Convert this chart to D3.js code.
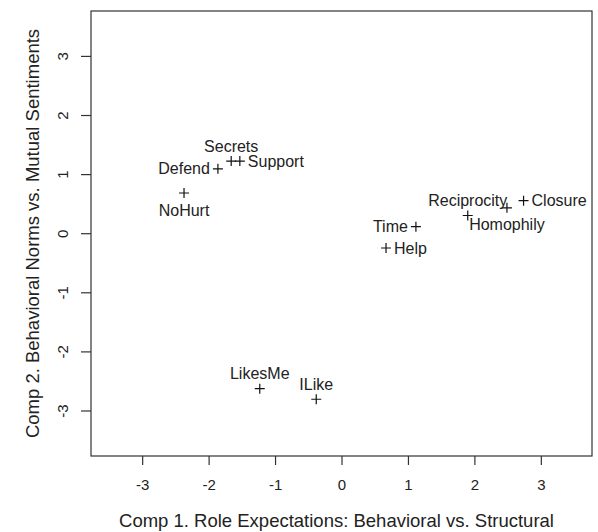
<!DOCTYPE html>
<html>
<head>
<meta charset="utf-8">
<script src="https://cdn.jsdelivr.net/npm/d3@7"></script>
<style>
  body { margin: 0; background: #fff; }
  svg text { font-family: "Liberation Sans", Arial, sans-serif; fill: #222; }
</style>
</head>
<body>
<div id="chart"></div>
<script>
// component scores
const items = ["Defend", "Secrets", "Support", "NoHurt", "Time", "Help",
               "Reciprocity", "Homophily", "Closure", "LikesMe", "ILike"];
const comp1 = [-1.86, -1.66, -1.53, -2.37, 1.12, 0.67, 1.90, 2.49, 2.74, -1.23, -0.38];
const comp2 = [1.09, 1.22, 1.22, 0.68, 0.11, -0.25, 0.30, 0.43, 0.55, -2.63, -2.81];
const xTicks = [-3, -2, -1, 0, 1, 2, 3];
const yTicks = [-3, -2, -1, 0, 1, 2, 3];

(function () {
  "use strict";

  const W = 598, H = 532;
  const box = { left: 91, right: 592, top: 11, bottom: 456 };

  // which side of the marker each label sits on
  const side = {
    Defend: "left", Secrets: "above", Support: "right", NoHurt: "below",
    Time: "left", Help: "right", Reciprocity: "above", Homophily: "below",
    Closure: "right", LikesMe: "above", ILike: "above"
  };

  const svg = d3.select("#chart").append("svg")
    .attr("width", W).attr("height", H);

  const x = d3.scaleLinear().domain([-3.77, 3.77]).range([box.left, box.right]);
  const y = d3.scaleLinear().domain([-3.77, 3.76]).range([box.bottom, box.top]);

  // plain hyphen for negatives, like R
  const fmt = d => String(d);

  // frame
  svg.append("rect")
    .attr("x", box.left).attr("y", box.top)
    .attr("width", box.right - box.left).attr("height", box.bottom - box.top)
    .attr("fill", "none").attr("stroke", "#333").attr("stroke-width", 1.2);

  // axes
  const xAxis = svg.append("g")
    .attr("transform", `translate(0,${box.bottom})`)
    .call(d3.axisBottom(x).tickValues(xTicks).tickSize(9).tickPadding(14).tickFormat(fmt));
  const yAxis = svg.append("g")
    .attr("transform", `translate(${box.left},0)`)
    .call(d3.axisLeft(y).tickValues(yTicks).tickSize(10).tickPadding(0).tickFormat(fmt));

  [xAxis, yAxis].forEach(g => {
    g.select(".domain").remove();
    g.selectAll(".tick line").attr("stroke", "#333").attr("stroke-width", 1.2);
    g.selectAll(".tick text").attr("font-size", 15).attr("fill", "#222")
      .attr("font-family", "Liberation Sans, Arial, sans-serif");
  });

  // y tick labels are rotated like R's las=0
  yAxis.selectAll(".tick text")
    .attr("x", null).attr("dy", null)
    .attr("text-anchor", "middle")
    .attr("transform", "translate(-28,0) rotate(-90)")
    .attr("dy", "0.35em");

  // axis titles
  svg.append("text")
    .attr("x", (box.left + box.right) / 2 - 5).attr("y", 527)
    .attr("text-anchor", "middle").attr("font-size", 18.5)
    .text("Comp 1. Role Expectations: Behavioral vs. Structural");

  svg.append("text")
    .attr("transform", `translate(39,${(box.top + box.bottom) / 2}) rotate(-90)`)
    .attr("text-anchor", "middle").attr("font-size", 18.5)
    .text("Comp 2. Behavioral Norms vs. Mutual Sentiments");

  const pts = items.map((name, i) => ({ name, c1: comp1[i], c2: comp2[i] }));

  // "+" markers
  svg.append("g").selectAll("path")
    .data(pts)
    .join("path")
    .attr("transform", d => `translate(${x(d.c1)},${y(d.c2)})`)
    .attr("d", "M-5,0H5M0,-5V5")
    .attr("stroke", "#111").attr("stroke-width", 1.2).attr("fill", "none");

  // labels
  svg.append("g").selectAll("text")
    .data(pts)
    .join("text")
    .attr("font-size", 16)
    .attr("x", d => {
      const s = side[d.name];
      return x(d.c1) + (s === "left" ? -8 : s === "right" ? 8 : 0);
    })
    .attr("y", d => {
      const s = side[d.name];
      return y(d.c2) + (s === "above" ? -15 : s === "below" ? 17 : 0);
    })
    .attr("dy", "0.35em")
    .attr("text-anchor", d => {
      const s = side[d.name];
      return s === "left" ? "end" : s === "right" ? "start" : "middle";
    })
    .text(d => d.name);
})();
</script>
</body>
</html>
